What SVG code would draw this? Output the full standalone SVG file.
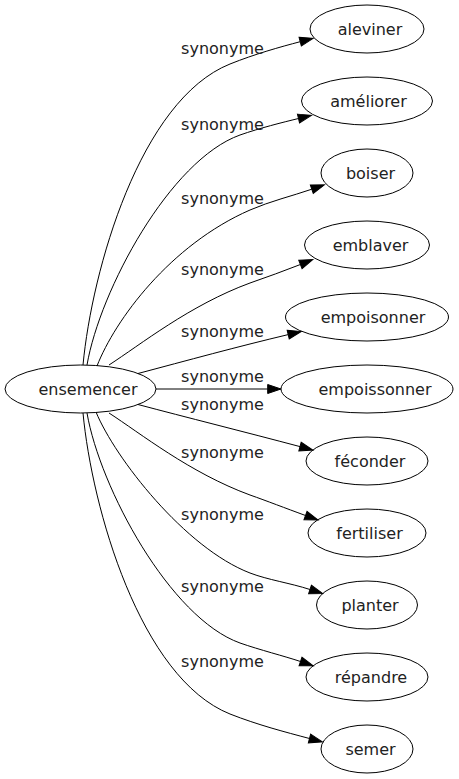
<svg xmlns="http://www.w3.org/2000/svg" width="459" height="779" viewBox="0 0 459 779">
<style>
.n ellipse{fill:none;stroke:#000;stroke-width:1}
text{font-family:"DejaVu Sans","Liberation Sans",sans-serif;font-size:16px;fill:#222;text-anchor:middle}
.e path{fill:none;stroke:#000;stroke-width:1;marker-end:url(#ah)}
</style>
<defs>
<marker id="ah" markerUnits="userSpaceOnUse" markerWidth="14" markerHeight="10" refX="0" refY="5" orient="auto" overflow="visible">
<polygon points="0,0.5 13.3,5 0,9.5" fill="#000" stroke="#000" stroke-width="1"/>
</marker>
</defs>
<rect width="459" height="779" fill="#fff"/>
<g id="edges" class="e">
<path d="M83,365 C92,270 140,100 230,64 C255,54 280,47 300.2,41.7"/>
<path d="M87,365 C100,290 170,160 240,135 C260,128 282,122.5 298.5,118.5"/>
<path d="M97,366 C115,320 170,245 250,210 C270,201.3 292,196 311.8,189.2"/>
<path d="M109,365 C140,345 190,305 250,283 C267,277 284,271 300.4,264.5"/>
<path d="M138,373.5 C185,361 240,346 288.2,334.6"/>
<path d="M156,389 L267.7,389"/>
<path d="M138,404.5 C185,417 245,432 300,446.6"/>
<path d="M109,413 C140,433 190,473 250,495 C267,501 285,508 305.5,515.5"/>
<path d="M96,412 C115,458 185,548 250,573 C268,579.9 290,583 310,589.5"/>
<path d="M87,413 C100,488 170,618 240,643 C260,650 284,656 300.5,661.5"/>
<path d="M83,413 C92,508 140,678 230,714 C258,725 285,732 309.5,738.5"/>
</g>
<g id="edge-labels">
<text x="222.5" y="53.5">synonyme</text>
<text x="222.5" y="129.6">synonyme</text>
<text x="222.5" y="203.6">synonyme</text>
<text x="222.5" y="275.3">synonyme</text>
<text x="222.5" y="337">synonyme</text>
<text x="222.5" y="381.5">synonyme</text>
<text x="222.5" y="409.5">synonyme</text>
<text x="222.5" y="458">synonyme</text>
<text x="222.5" y="519.5">synonyme</text>
<text x="222.5" y="591.5">synonyme</text>
<text x="222.5" y="666.5">synonyme</text>
</g>
<g id="ensemencer" class="n"><ellipse cx="80.5" cy="389" rx="75.5" ry="24"/><text x="88" y="395">ensemencer</text></g>
<g id="aleviner" class="n"><ellipse cx="367" cy="29" rx="57" ry="24"/><text x="370" y="35">aleviner</text></g>
<g id="ameliorer" class="n"><ellipse cx="367" cy="101" rx="65.5" ry="24"/><text x="368.5" y="107">améliorer</text></g>
<g id="boiser" class="n"><ellipse cx="367" cy="173" rx="46" ry="24"/><text x="370.5" y="179">boiser</text></g>
<g id="emblaver" class="n"><ellipse cx="367" cy="245" rx="62.5" ry="24"/><text x="370.5" y="251">emblaver</text></g>
<g id="empoisonner" class="n"><ellipse cx="367" cy="317" rx="81.5" ry="24"/><text x="373" y="323">empoisonner</text></g>
<g id="empoissonner" class="n"><ellipse cx="367" cy="389" rx="86" ry="24"/><text x="375" y="395">empoissonner</text></g>
<g id="feconder" class="n"><ellipse cx="367" cy="461" rx="61" ry="24"/><text x="370" y="467">féconder</text></g>
<g id="fertiliser" class="n"><ellipse cx="367" cy="533" rx="59" ry="24"/><text x="369.5" y="539">fertiliser</text></g>
<g id="planter" class="n"><ellipse cx="367" cy="605" rx="50.5" ry="24"/><text x="370" y="611">planter</text></g>
<g id="repandre" class="n"><ellipse cx="367" cy="677" rx="61" ry="24"/><text x="371" y="683">répandre</text></g>
<g id="semer" class="n"><ellipse cx="367" cy="749" rx="46" ry="24"/><text x="370.5" y="755">semer</text></g>
</svg>
